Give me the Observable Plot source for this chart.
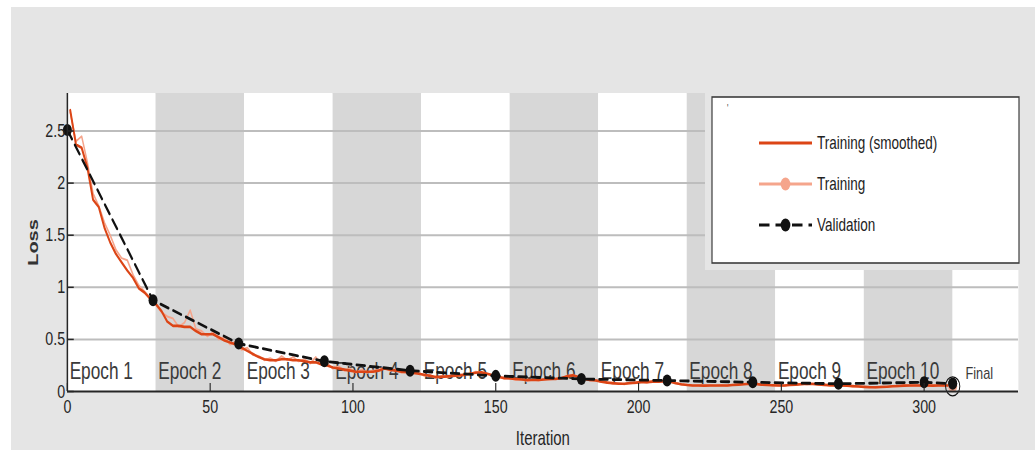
<!DOCTYPE html>
<html><head><meta charset="utf-8">
<script src="https://cdn.jsdelivr.net/npm/d3@7"></script>
<script src="https://cdn.jsdelivr.net/npm/@observablehq/plot@0.6"></script>
<style>
html,body{margin:0;padding:0;background:#fff;}
#chart{width:1035px;height:450px;overflow:hidden;}
svg{display:block;}
</style></head><body><div id="chart"></div>
<script>
// ---- data ----
const iterationsPerEpoch = 31;
const epochs = [1,2,3,4,5,6,7,8,9,10];
const trainIter = d3.range(1, 310, 2);
const trainSmoothed = [
2.70,2.37,2.34,2.15,1.84,1.77,1.57,1.43,1.32,1.24,
1.16,1.09,0.99,0.95,0.89,0.84,0.77,0.67,0.63,0.63,
0.62,0.62,0.58,0.55,0.55,0.55,0.52,0.49,0.47,0.45,
0.42,0.39,0.36,0.33,0.31,0.30,0.30,0.31,0.31,0.30,
0.30,0.29,0.28,0.28,0.26,0.25,0.23,0.22,0.21,0.20,
0.19,0.19,0.19,0.19,0.20,0.22,0.21,0.20,0.19,0.185,
0.18,0.17,0.16,0.15,0.14,0.14,0.145,0.15,0.155,0.16,
0.17,0.18,0.185,0.17,0.155,0.14,0.13,0.125,0.12,0.115,
0.11,0.11,0.11,0.115,0.12,0.12,0.13,0.145,0.155,0.14,
0.12,0.11,0.105,0.095,0.085,0.08,0.075,0.075,0.08,0.085,
0.09,0.09,0.095,0.095,0.10,0.095,0.08,0.07,0.062,0.058,
0.057,0.056,0.057,0.058,0.058,0.058,0.062,0.066,0.07,0.074,
0.072,0.066,0.062,0.06,0.058,0.058,0.062,0.066,0.07,0.074,
0.072,0.068,0.064,0.06,0.058,0.057,0.055,0.052,0.048,0.044,
0.041,0.041,0.043,0.046,0.05,0.053,0.056,0.058,0.058,0.058,
0.057,0.056,0.057,0.058,0.058];
const trainRaw = [
2.68,2.40,2.45,2.20,1.90,1.78,1.62,1.50,1.36,1.28,
1.26,1.12,1.02,0.96,0.90,0.83,0.76,0.72,0.70,0.62,
0.66,0.78,0.60,0.58,0.53,0.57,0.50,0.52,0.45,0.48,
0.40,0.42,0.35,0.34,0.30,0.32,0.29,0.34,0.30,0.33,
0.29,0.31,0.27,0.33,0.26,0.27,0.22,0.24,0.20,0.22,
0.18,0.21,0.18,0.20,0.21,0.23,0.20,0.21,0.18,0.19,
0.17,0.18,0.15,0.16,0.13,0.15,0.14,0.16,0.15,0.17,
0.165,0.19,0.18,0.17,0.15,0.145,0.12,0.13,0.11,0.12,
0.10,0.115,0.105,0.12,0.115,0.125,0.125,0.15,0.16,0.135,
0.125,0.105,0.11,0.09,0.09,0.075,0.08,0.07,0.085,0.08,
0.095,0.085,0.10,0.09,0.105,0.09,0.085,0.065,0.065,0.055,
0.06,0.052,0.06,0.055,0.062,0.055,0.065,0.062,0.074,0.07,
0.076,0.062,0.066,0.056,0.06,0.055,0.066,0.062,0.074,0.07,
0.076,0.064,0.068,0.056,0.06,0.054,0.058,0.048,0.052,0.042,
0.045,0.038,0.046,0.043,0.053,0.05,0.06,0.055,0.061,0.055,
0.06,0.053,0.06,0.055,0.06];
const valIter = [0,30,60,90,120,150,180,210,240,270,300,310];
const valLoss = [2.51,0.875,0.46,0.29,0.20,0.15,0.12,0.105,0.089,0.074,0.089,0.074];
const finalIter = 310;
const finalTrain = 0.05;
const finalVal = 0.074;
const xTicks = [0,50,100,150,200,250,300];
const yTicks = [0,0.5,1,1.5,2,2.5];
const legendLabels = ["Training (smoothed)","Training","Validation"];

// ---- styling ----
const squeeze = 0.75;            // reference is horizontally compressed
const W = Math.round(1035 / squeeze), H = 450;
const red = "#dc4516", salmon = "#f5a58c", ink = "#262626";
const font = "'Liberation Sans', Arial, Helvetica, sans-serif";

const train = trainIter.map((it, i) => ({it, s: trainSmoothed[i], r: trainRaw[i]}));
const val = valIter.map((it, i) => ({it, v: valLoss[i]}));

const plot = Plot.plot({
  width: W, height: H,
  marginLeft: 67 / squeeze, marginRight: W - 1018 / squeeze, marginTop: 93, marginBottom: 59,
  style: {background: "transparent", fontFamily: font, color: ink, overflow: "visible"},
  x: {domain: [0, 333]},
  y: {domain: [0, 2.86]},
  marks: [
    Plot.frame({fill: "#ffffff", stroke: null}),
    Plot.rect(epochs, {x1: e => (e - 1) * iterationsPerEpoch, x2: e => e * iterationsPerEpoch,
      fill: e => e % 2 === 0 ? "#d7d7d7" : "#ffffff"}),
    Plot.ruleY(yTicks.filter(d => d > 0), {stroke: "#bdbdbd", strokeWidth: 2}),
    Plot.text(epochs, {x: e => (e - 1) * iterationsPerEpoch, text: e => `Epoch ${e}`,
      frameAnchor: "bottom", textAnchor: "start", lineAnchor: "bottom", dx: 3, dy: -13,
      fontSize: 23, fill: "#3a3a3a", fontFamily: font}),
    Plot.text([finalIter], {x: d => d, text: () => "Final", frameAnchor: "bottom",
      textAnchor: "start", lineAnchor: "bottom", dx: 17, dy: -13, fontSize: 17, fill: "#3a3a3a", fontFamily: font}),
    Plot.line(train, {x: "it", y: "r", stroke: salmon, strokeWidth: 2}),
    Plot.line(train, {x: "it", y: "s", stroke: red, strokeWidth: 2.6}),
    Plot.line(val, {x: "it", y: "v", stroke: "#111", strokeWidth: 2.8, strokeDasharray: "11,7"}),
    Plot.dot(val, {x: "it", y: "v", r: 6, fill: "#111", stroke: null}),
    Plot.dot([finalIter], {x: d => d, y: () => finalTrain, r: 6, fill: salmon, stroke: null}),
    Plot.dot([finalIter], {x: d => d, y: () => finalTrain, r: 9.5, fill: "none", stroke: "#111", strokeWidth: 1.3}),
    Plot.dot([finalIter], {x: d => d, y: () => finalVal, r: 6, fill: "#111", stroke: null}),
    Plot.ruleX([0], {stroke: ink, strokeWidth: 2}),
    Plot.ruleY([0], {stroke: ink, strokeWidth: 2}),
    Plot.axisX({ticks: xTicks, tickSize: 8, dy: -8, tickFormat: () => "", stroke: ink, strokeWidth: 1.5, label: null}),
    Plot.axisX({ticks: xTicks, tickSize: 0, tickPadding: 8, fontSize: 19, fill: ink, label: null,
      tickFormat: d => String(d)}),
    Plot.axisY({ticks: yTicks, tickSize: 9, dx: 9, tickFormat: () => "", stroke: ink, strokeWidth: 1.5, label: null}),
    Plot.axisY({ticks: yTicks, tickSize: 0, tickPadding: 3, fontSize: 19, fill: ink, label: null,
      tickFormat: d => String(d)}),
    Plot.text(["Loss"], {text: d => d, frameAnchor: "left", textAnchor: "middle", lineAnchor: "middle",
      dx: -45, rotate: -90, fontSize: 20, fontWeight: "bold", fill: "#333", fontFamily: font}),
    Plot.text(["Iteration"], {text: d => d, frameAnchor: "bottom", textAnchor: "middle", lineAnchor: "middle",
      dy: 47, fontSize: 20, fill: ink, fontFamily: font})
  ]
});

// page background
const svg = d3.select(plot);
svg.insert("rect", ":first-child")
  .attr("x", 11 / squeeze).attr("y", 7).attr("width", W).attr("height", H).attr("fill", "#e5e5e5");

// legend
const lg = svg.append("g").attr("font-family", font).attr("text-anchor", "start");
lg.append("rect").attr("x", 705 / squeeze).attr("y", 93).attr("width", 315 / squeeze).attr("height", 177).attr("fill", "#e5e5e5");
lg.append("rect").attr("x", 712 / squeeze).attr("y", 97).attr("width", 307 / squeeze).attr("height", 166)
  .attr("fill", "#ffffff").attr("stroke", "#3c3c3c").attr("stroke-width", 1.6);
lg.append("text").attr("x", 727 / squeeze).attr("y", 112).attr("font-size", 10).attr("fill", "#333").text("'");
const rowY = [143, 184, 225];
const lx1 = 759 / squeeze, lx2 = 812 / squeeze, tx = 817 / squeeze;
legendLabels.forEach((lab, i) => {
  const y = rowY[i];
  if (i === 0) {
    lg.append("line").attr("x1", lx1).attr("x2", lx2).attr("y1", y).attr("y2", y).attr("stroke", red).attr("stroke-width", 2.8);
  } else if (i === 1) {
    lg.append("line").attr("x1", lx1).attr("x2", lx2).attr("y1", y).attr("y2", y).attr("stroke", salmon).attr("stroke-width", 2.8);
    lg.append("circle").attr("cx", (lx1 + lx2) / 2).attr("cy", y).attr("r", 6.5).attr("fill", salmon);
  } else {
    lg.append("line").attr("x1", lx1).attr("x2", lx2).attr("y1", y).attr("y2", y).attr("stroke", "#111")
      .attr("stroke-width", 2.8).attr("stroke-dasharray", "14,8");
    lg.append("circle").attr("cx", (lx1 + lx2) / 2).attr("cy", y).attr("r", 6.5).attr("fill", "#111");
  }
  lg.append("text").attr("x", tx).attr("y", y).attr("dy", "0.35em").attr("font-size", 18).attr("fill", "#222").text(lab);
});

// horizontal compression to match the reference
plot.setAttribute("viewBox", `0 0 ${W} ${H}`);
plot.setAttribute("width", 1035);
plot.setAttribute("height", 450);
plot.setAttribute("preserveAspectRatio", "none");
plot.style.width = "1035px";
plot.style.height = "450px";
plot.style.maxWidth = "none";
document.getElementById("chart").appendChild(plot);
</script>
</body></html>
